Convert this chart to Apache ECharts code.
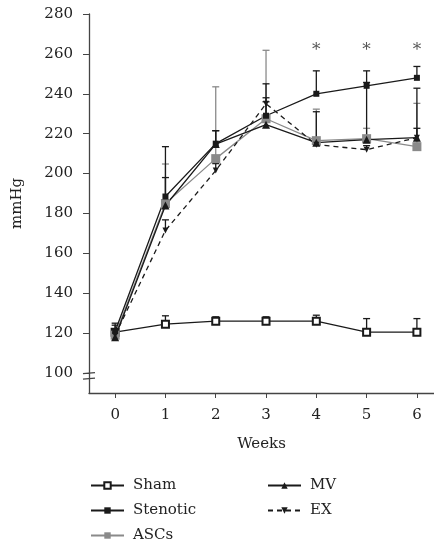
<!DOCTYPE html>
<html>
<head>
<meta charset="utf-8">
<script src="https://cdn.jsdelivr.net/npm/echarts@6/dist/echarts.min.js"></script>
<style>
html, body { margin: 0; padding: 0; background: #fff; }
#chart { width: 434px; height: 546px; }
</style>
</head>
<body>
<div id="chart"></div>
<script type="text/javascript">
// data (mmHg), upper error bar ends kept apart
var weeks = [0, 1, 2, 3, 4, 5, 6];
var sham = [120.5, 124.5, 126, 126, 126, 120.5, 120.5];
var shamUp = [125, 128.7, 128.2, 128.2, 129, 127.3, 127.3];
var stenotic = [121, 188.5, 215, 229, 240, 244, 248];
var stenoticUp = [124, 213.5, 221.5, 245, 251.5, 251.5, 253.7];
var ascs = [119, 185, 207.5, 227.5, 216.5, 217.5, 213.5];
var ascsUp = [122, 204.8, 243.5, 261.8, 232.3, 222.7, 235.2];
var mv = [118, 184, 214.8, 224.5, 215.5, 217, 218];
var mvUp = [121, 198, 221.5, 236, 231, 245.7, 242.8];
var ex = [119, 171.5, 201.5, 235, 214.5, 212, 218];
var exUp = [121, 176.8, 205, 238, 216, 214, 222.7];
var starWeeks = [4, 5, 6];
var starLevel = 261.5;
var yTicks = [100, 120, 140, 160, 180, 200, 220, 240, 260, 280];

var font = 'DejaVu Serif';
var black = '#1a1a1a';
var grey = '#8a8a8a';

function pts(vals) {
    return weeks.map(function (w, i) { return [w, vals[i]]; });
}
function bars(vals, ups) {
    return weeks.map(function (w, i) { return [w, vals[i], ups[i]]; });
}
function errSeries(vals, ups, color) {
    return {
        type: 'custom',
        z: 1,
        silent: true,
        data: bars(vals, ups),
        encode: { x: 0, y: [1, 2] },
        renderItem: function (params, api) {
            var a = api.coord([api.value(0), api.value(1)]);
            var b = api.coord([api.value(0), api.value(2)]);
            var st = { stroke: color, lineWidth: 1.3 };
            return {
                type: 'group',
                children: [
                    { type: 'line', shape: { x1: a[0], y1: a[1], x2: b[0], y2: b[1] }, style: st },
                    { type: 'line', shape: { x1: b[0] - 3.5, y1: b[1], x2: b[0] + 3.5, y2: b[1] }, style: st }
                ]
            };
        }
    };
}
function lineSeries(name, vals, color, symbol, size, extra) {
    var s = {
        name: name,
        type: 'line',
        z: 3,
        data: pts(vals),
        symbol: symbol,
        symbolSize: size,
        lineStyle: { color: color, width: 1.3 },
        itemStyle: { color: color }
    };
    for (var k in extra) { s[k] = extra[k]; }
    return s;
}

var legendBase = {
    orient: 'vertical',
    top: 478,
    padding: 0,
    itemWidth: 33, itemHeight: 8, itemGap: 10,
    textStyle: { fontFamily: font, fontSize: 15, color: '#222', padding: [0, 0, 0, 4] }
};

var myChart = echarts.init(document.getElementById('chart'));
var option = {
    animation: false,
    textStyle: { fontFamily: font },
    grid: { left: 89, top: 14, right: 0, bottom: 153 },
    legend: [
        Object.assign({}, legendBase, { left: 90, data: ['Sham', 'Stenotic', 'ASCs'] }),
        Object.assign({}, legendBase, { left: 267, data: ['MV', 'EX'] })
    ],
    xAxis: {
        type: 'value',
        min: -0.52, max: 6.34,
        name: 'Weeks',
        nameLocation: 'middle',
        nameGap: 44,
        nameTextStyle: { fontFamily: font, fontSize: 15, color: '#222' },
        splitLine: { show: false },
        axisLine: { onZero: false, lineStyle: { color: '#444', width: 1.3 } },
        axisTick: { customValues: weeks, length: 5, lineStyle: { color: '#444' } },
        axisLabel: { customValues: weeks, margin: 15, fontFamily: font, fontSize: 15, color: '#222' }
    },
    yAxis: {
        type: 'value',
        min: 90, max: 280,
        name: 'mmHg',
        nameLocation: 'middle',
        nameGap: 64,
        nameTextStyle: { fontFamily: font, fontSize: 15, color: '#222' },
        splitLine: { show: false },
        axisLine: { show: true, onZero: false, lineStyle: { color: '#444', width: 1.3 } },
        axisTick: { show: true, customValues: yTicks, length: 6, lineStyle: { color: '#444' } },
        axisLabel: { customValues: yTicks, margin: 16, fontFamily: font, fontSize: 15, color: '#222' }
    },
    series: [
        errSeries(sham, shamUp, black),
        errSeries(ascs, ascsUp, grey),
        errSeries(stenotic, stenoticUp, black),
        errSeries(mv, mvUp, black),
        errSeries(ex, exUp, black),
        lineSeries('Sham', sham, black, 'rect', 7, {
            itemStyle: { color: '#fff', borderColor: black, borderWidth: 2 }
        }),
        lineSeries('ASCs', ascs, grey, 'rect', 9, {}),
        lineSeries('EX', ex, black, 'triangle', 6, {
            symbolRotate: 180,
            lineStyle: { color: black, width: 1.3, type: [5, 4] }
        }),
        lineSeries('MV', mv, black, 'triangle', 8, {}),
        lineSeries('Stenotic', stenotic, black, 'rect', 6, {}),
        {
            type: 'custom',
            silent: true,
            data: starWeeks.map(function (w) { return [w, starLevel]; }),
            renderItem: function (params, api) {
                var p = api.coord([api.value(0), api.value(1)]);
                return {
                    type: 'text',
                    x: p[0], y: p[1],
                    style: { text: '*', font: '17px ' + font, fill: '#555', align: 'center', verticalAlign: 'middle' }
                };
            }
        }
    ]
};
myChart.setOption(option);

// axis break marks at 100
var b = myChart.convertToPixel({ gridIndex: 0 }, [-0.52, 100]);
myChart.setOption({
    graphic: [
        { type: 'line', shape: { x1: b[0] - 6, y1: b[1] + 0.5, x2: b[0] + 6, y2: b[1] - 0.5 }, style: { stroke: '#444', lineWidth: 1.2 } },
        { type: 'line', shape: { x1: b[0] - 6, y1: b[1] + 6, x2: b[0] + 6, y2: b[1] + 5 }, style: { stroke: '#444', lineWidth: 1.2 } }
    ]
});
</script>
</body>
</html>
